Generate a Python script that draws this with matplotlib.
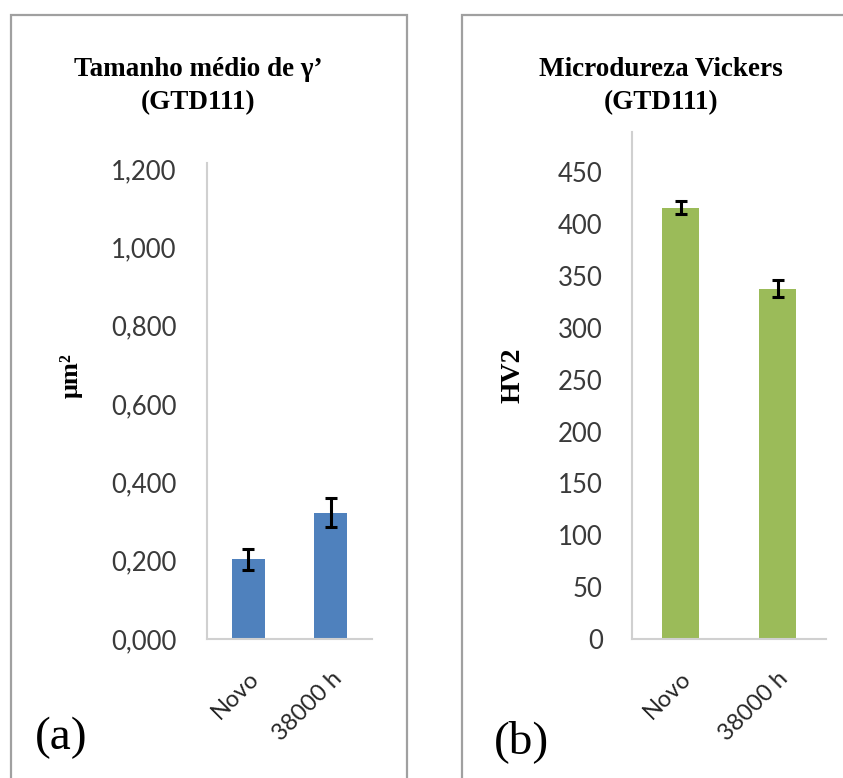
import matplotlib.pyplot as plt
from matplotlib.patches import Rectangle

# data
categories = ['Novo', '38000 h']
size_values = [0.203, 0.322]
size_err = [0.026, 0.037]
size_ticks = [0.0, 0.2, 0.4, 0.6, 0.8, 1.0, 1.2]
size_ticklabels = ['0,000', '0,200', '0,400', '0,600', '0,800', '1,000', '1,200']

hv_values = [416, 338]
hv_err = [6, 8.5]
hv_ticks = [0, 50, 100, 150, 200, 250, 300, 350, 400, 450]

W, H = 843, 778
fig = plt.figure(figsize=(W / 100, H / 100), dpi=100)

serif = ['Liberation Serif', 'DejaVu Serif']
sans = ['Lato', 'DejaVu Sans']
tick_col = '#3a3a3a'
spine_col = '#d0d0d0'

# panel frames
fig.add_artist(Rectangle((11 / W, -0.1), (407 - 11) / W, 1.1 - 15 / H,
                         transform=fig.transFigure, fill=False,
                         edgecolor='#a0a0a0', linewidth=1.6))
fig.add_artist(Rectangle((462 / W, -0.1), 0.6, 1.1 - 15 / H,
                         transform=fig.transFigure, fill=False,
                         edgecolor='#a0a0a0', linewidth=1.6))


def style_axes(ax):
    for side in ['top', 'right']:
        ax.spines[side].set_visible(False)
    for side in ['left', 'bottom']:
        ax.spines[side].set_color(spine_col)
        ax.spines[side].set_linewidth(1.5)
    ax.tick_params(length=0, colors=tick_col)
    ax.set_xlim(-0.5, 1.5)
    ax.set_xticks(range(len(categories)))
    ax.set_xticklabels(categories, rotation=45, ha='right',
                       rotation_mode='anchor', family=sans, fontsize=17,
                       color='#262626')


# (a) gamma prime size
ax1 = fig.add_axes([207 / W, 139 / H, 165 / W, 476 / H])
ax1.bar(range(len(categories)), size_values, width=0.4, color='#4f81bd')
ax1.errorbar(range(len(categories)), size_values, yerr=size_err, fmt='none',
             ecolor='black', elinewidth=2.2, capsize=4.5, capthick=2.2)
ax1.set_ylim(0, 1.215)
ax1.set_yticks(size_ticks)
ax1.set_yticklabels(size_ticklabels, family=sans, fontsize=18.5)
style_axes(ax1)
ax1.tick_params(axis='y', pad=22)
ax1.tick_params(axis='x', pad=21)

# (b) Vickers hardness
ax2 = fig.add_axes([632 / W, 139 / H, 194 / W, 507 / H])
ax2.bar(range(len(categories)), hv_values, width=0.39, color='#9bbb59')
ax2.errorbar(range(len(categories)), hv_values, yerr=hv_err, fmt='none',
             ecolor='black', elinewidth=2.2, capsize=4.5, capthick=2.2)
ax2.set_ylim(0, 489)
ax2.set_yticks(hv_ticks)
ax2.set_yticklabels([str(t) for t in hv_ticks], family=sans, fontsize=18.5)
style_axes(ax2)
ax2.tick_params(axis='y', pad=21)
ax2.tick_params(axis='x', pad=21)

# titles and axis names
fig.text(198 / W, 1 - 70 / H, 'Tamanho médio de γ’', family=serif,
         weight='bold', fontsize=19.5, ha='center', va='center')
fig.text(198 / W, 1 - 103 / H, '(GTD111)', family=serif,
         weight='bold', fontsize=19.5, ha='center', va='center')
fig.text(661 / W, 1 - 70 / H, 'Microdureza Vickers', family=serif,
         weight='bold', fontsize=19.5, ha='center', va='center')
fig.text(661 / W, 1 - 103 / H, '(GTD111)', family=serif,
         weight='bold', fontsize=19.5, ha='center', va='center')

fig.text(71 / W, 1 - 376 / H, 'μm²', family=serif, weight='bold',
         fontsize=19, rotation=90, ha='center', va='center')
fig.text(513 / W, 1 - 375 / H, 'HV2', family=serif, weight='bold',
         fontsize=20, rotation=90, ha='center', va='center')

fig.text(35 / W, 1 - 738 / H, '(a)', family=serif, fontsize=34,
         ha='left', va='center')
fig.text(494 / W, 1 - 742 / H, '(b)', family=serif, fontsize=34,
         ha='left', va='center')

fig.savefig('out.png', dpi=100)
